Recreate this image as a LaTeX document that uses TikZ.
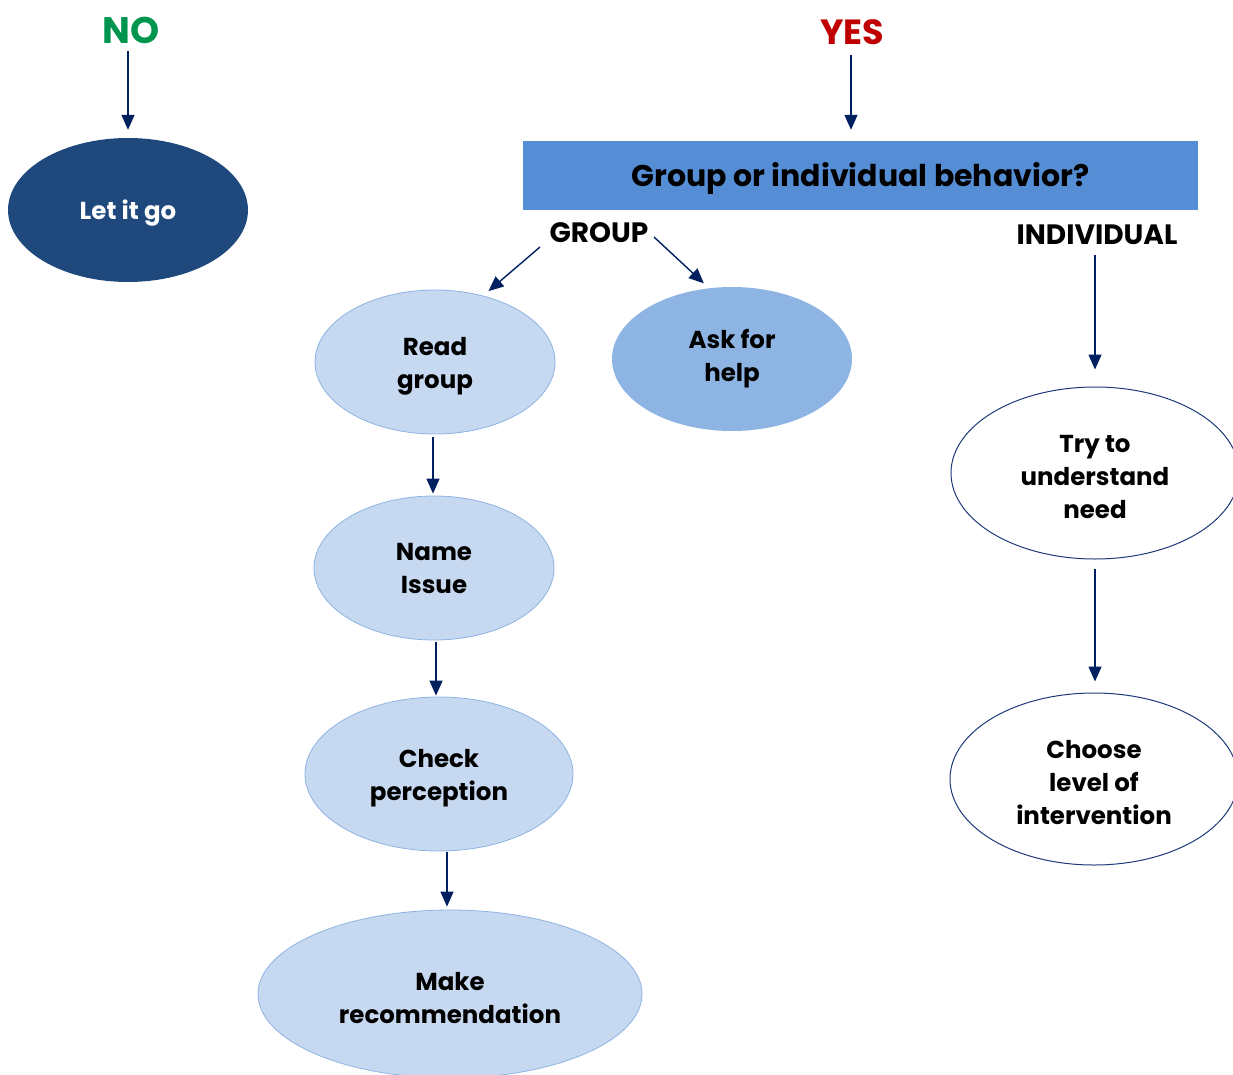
\documentclass[tikz,border=0pt]{standalone}
\usepackage{fontspec}
\setmainfont{Poppins}
\usetikzlibrary{shapes.geometric,arrows.meta}
\definecolor{arrowblue}{HTML}{002060}
\definecolor{darkfill}{HTML}{1F497D}
\definecolor{lightfill}{HTML}{C6D9F1}
\definecolor{lightedge}{HTML}{8DB3E2}
\definecolor{midfill}{HTML}{8EB4E3}
\definecolor{boxfill}{HTML}{558ED5}
\definecolor{nogreen}{HTML}{00954F}
\definecolor{yesred}{HTML}{C00000}
\definecolor{outline}{HTML}{1F3A7A}
\newcommand{\lowr}{\rule{0pt}{26pt}}
\tikzset{
  oval/.style={ellipse, inner sep=0pt, align=center, font=\fontsize{24.5}{33}\selectfont\bfseries},
  lightoval/.style={oval, fill=lightfill, draw=lightedge, line width=0.8pt},
  whiteoval/.style={oval, fill=white, draw=outline, line width=1pt},
  conn/.style={draw=arrowblue, line width=1.4pt, -{Triangle[length=15pt,width=13pt]}},
  toplabel/.style={font=\fontsize{35}{35}\selectfont\bfseries, inner sep=0pt},
  sublabel/.style={font=\fontsize{28}{28}\selectfont\bfseries, inner sep=0pt},
}
\begin{document}
\begin{tikzpicture}[x=1pt,y=-1pt]
\useasboundingbox (0,0) rectangle (1233,1075);
% labels
\node[toplabel, text=nogreen, font=\fontsize{37}{37}\selectfont\bfseries] (no) at (131,30) {NO};
\node[toplabel, text=yesred] (yes) at (852,32) {YES};
% decision box
\node[fill=boxfill, minimum width=675pt, minimum height=69pt, inner sep=0pt,
      font=\fontsize{30}{30}\selectfont\bfseries] (box) at (860.5,175.5) {\rule{0pt}{29pt}Group or individual behavior?};
\node[sublabel] (group) at (599,233) {GROUP};
\node[sublabel] (indiv) at (1097,235) {INDIVIDUAL};
% ellipses
\node[oval, fill=darkfill, text=white, minimum width=240pt, minimum height=144pt] (letgo) at (128,210) {\lowr Let it go};
\node[lightoval, minimum width=240pt, minimum height=144pt] (read) at (435,362) {\lowr Read\\group};
\node[oval, fill=midfill, minimum width=240pt, minimum height=144pt] (ask) at (732,359) {Ask for\\help};
\node[lightoval, minimum width=240pt, minimum height=144pt] (name) at (434,568) {Name\\Issue};
\node[lightoval, minimum width=268pt, minimum height=154pt] (check) at (439,774) {\lowr Check\\perception};
\node[lightoval, minimum width=384pt, minimum height=168pt] (make) at (450,994) {\lowr Make\\recommendation};
\node[whiteoval, minimum width=288pt, minimum height=172pt] (try) at (1095,473) {\lowr Try to\\understand\\need};
\node[whiteoval, minimum width=288pt, minimum height=172pt] (choose) at (1094,779) {\lowr Choose\\level of\\intervention};
% connectors
\coordinate (gl) at (540,247);
\coordinate (gr) at (654,237);
\draw[conn, shorten <=8pt, shorten >=8pt] (no.south -| letgo.north) -- (letgo.north);
\draw[conn, shorten <=10pt, shorten >=11pt] (yes.south -| 851,0) -- (box.north -| 851,0);
\draw[conn, shorten >=7pt] (gl) -- (read.54);
\draw[conn, shorten >=7pt] (gr) -- (ask.108);
\draw[conn, shorten <=10pt, shorten >=17pt] (indiv.south -| try.north) -- (try.north);
\draw[conn, shorten <=3pt, shorten >=2pt] (read.south -| 433,0) -- (name.north -| 433,0);
\draw[conn, shorten <=2pt, shorten >=1pt] (name.south -| 436,0) -- (check.north -| 436,0);
\draw[conn, shorten <=1pt, shorten >=3pt] (check.south -| 447,0) -- (make.north -| 447,0);
\draw[conn, shorten <=9pt, shorten >=11pt] (try.south) -- (try.south |- choose.north);
\end{tikzpicture}
\end{document}
